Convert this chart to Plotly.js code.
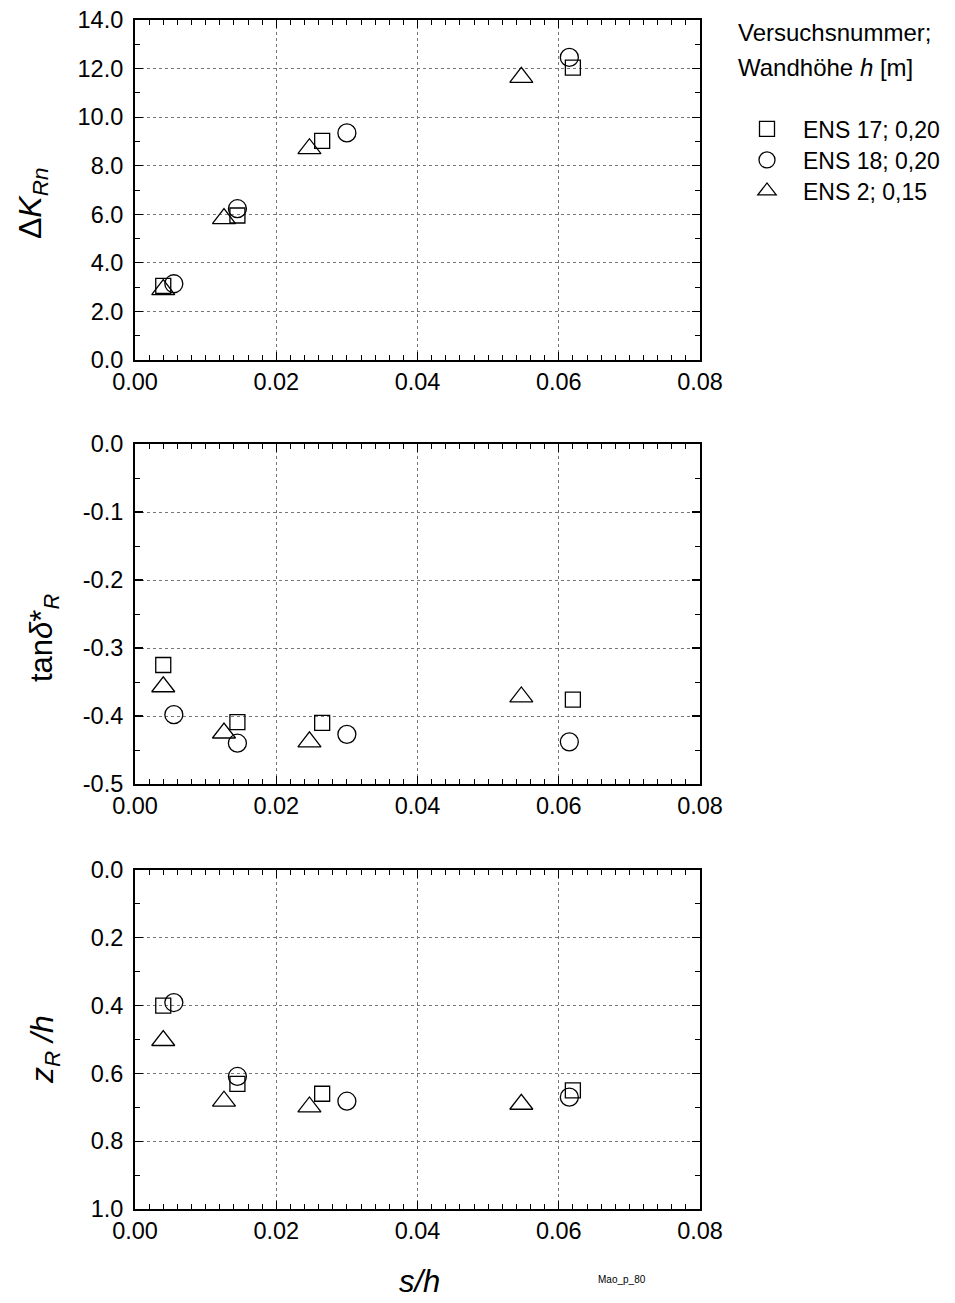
<!DOCTYPE html>
<html>
<head>
<meta charset="utf-8">
<script src="https://cdn.plot.ly/plotly-3.0.1.min.js"></script>
<style>html,body{margin:0;padding:0;background:#fff;}#chart{width:955px;height:1303px;}</style>
</head>
<body>
<div id="chart"></div>
<script>
// ---- data ----
const seriesNames = ["ENS 17; 0,20", "ENS 18; 0,20", "ENS 2; 0,15"];
const symbols = ["square-open", "circle-open", "triangle-up-open"];
const markerSizes = [15, 18, 20];

const x_ENS17 = [0.0040, 0.0145, 0.0265, 0.0620];
const x_ENS18 = [0.0055, 0.0145, 0.0300, 0.0615];
const x_ENS2  = [0.0040, 0.0126, 0.0247, 0.0547];

const dK_ENS17 = [3.05, 5.95, 9.02, 12.04];
const dK_ENS18 = [3.14, 6.23, 9.35, 12.46];
const dK_ENS2  = [2.90, 5.82, 8.70, 11.64];

const tan_ENS17 = [-0.325, -0.409, -0.410, -0.376];
const tan_ENS18 = [-0.398, -0.440, -0.427, -0.438];
const tan_ENS2  = [-0.357, -0.425, -0.438, -0.372];

const z_ENS17 = [0.400, 0.631, 0.660, 0.650];
const z_ENS18 = [0.391, 0.609, 0.682, 0.670];
const z_ENS2  = [0.503, 0.682, 0.699, 0.691];

const xTickVals = [0, 0.02, 0.04, 0.06, 0.08];
const xTickText = ["0.00", "0.02", "0.04", "0.06", "0.08"];
const dKTickVals = [0, 2, 4, 6, 8, 10, 12, 14];
const dKTickText = ["0.0", "2.0", "4.0", "6.0", "8.0", "10.0", "12.0", "14.0"];
const tanTickVals = [-0.5, -0.4, -0.3, -0.2, -0.1, 0];
const tanTickText = ["-0.5", "-0.4", "-0.3", "-0.2", "-0.1", "0.0"];
const zTickVals = [0, 0.2, 0.4, 0.6, 0.8, 1.0];
const zTickText = ["0.0", "0.2", "0.4", "0.6", "0.8", "1.0"];

// ---- build ----
const xs = [x_ENS17, x_ENS18, x_ENS2];
const legendIds = ["legend", "legend2", "legend3"];
const panels = [
  {ys: [dK_ENS17, dK_ENS18, dK_ENS2], xa: "x", ya: "y"},
  {ys: [tan_ENS17, tan_ENS18, tan_ENS2], xa: "x2", ya: "y2"},
  {ys: [z_ENS17, z_ENS18, z_ENS2], xa: "x3", ya: "y3"}
];
const traces = [];
panels.forEach((p, pi) => {
  for (let s = 0; s < 3; s++) {
    traces.push({
      type: "scatter", mode: "markers",
      x: xs[s], y: p.ys[s], xaxis: p.xa, yaxis: p.ya,
      name: seriesNames[s], showlegend: pi === 0, legend: legendIds[s],
      marker: {symbol: symbols[s], size: markerSizes[s], color: "#000", line: {color: "#000", width: 1.3}},
      cliponaxis: false
    });
  }
});

const W = 955, H = 1303;
const font = "Liberation Sans, Arial, sans-serif";
const tickFont = {family: font, size: 23.5, color: "#000"};
function xAxis(anchor) {
  return {
    domain: [135 / W, 700 / W], anchor: anchor, range: [0, 0.08],
    tickmode: "array", tickvals: xTickVals, ticktext: xTickText,
    ticks: "inside", ticklen: 8, tickwidth: 1.2, tickcolor: "#000",
    minor: {dtick: 0.002, tick0: 0, ticks: "inside", ticklen: 5, tickwidth: 1, tickcolor: "#000", showgrid: false},
    showline: true, linecolor: "#000", linewidth: 2, mirror: "allticks",
    showgrid: true, gridcolor: "#777", griddash: "dot", gridwidth: 1,
    zeroline: false, tickfont: tickFont
  };
}
function yAxis(anchor, top, bot, range, vals, text, minorDtick) {
  return {
    domain: [1 - bot / H, 1 - top / H], anchor: anchor, range: range,
    tickmode: "array", tickvals: vals, ticktext: text,
    ticks: "inside", ticklen: 8, tickwidth: 1.2, tickcolor: "#000",
    minor: {dtick: minorDtick, tick0: 0, ticks: "inside", ticklen: 5, tickwidth: 1, tickcolor: "#000", showgrid: false},
    showline: true, linecolor: "#000", linewidth: 2, mirror: "allticks",
    showgrid: true, gridcolor: "#777", griddash: "dot", gridwidth: 1,
    zeroline: false, tickfont: tickFont, ticklabelstandoff: 5
  };
}
function legendAt(yPx) {
  return {
    x: 731 / W, xanchor: "left", y: 1 - yPx / H, yanchor: "middle",
    font: {family: font, size: 23, color: "#000"},
    bgcolor: "rgba(0,0,0,0)", borderwidth: 0, itemwidth: 62
  };
}

const layout = {
  width: W, height: H,
  margin: {l: 0, r: 0, t: 0, b: 0},
  paper_bgcolor: "#fff", plot_bgcolor: "#fff",
  font: {family: font, color: "#000"},
  xaxis: xAxis("y"),
  yaxis: yAxis("x", 20, 360, [0, 14], dKTickVals, dKTickText, 1),
  xaxis2: xAxis("y2"),
  yaxis2: yAxis("x2", 444, 784, [-0.5, 0], tanTickVals, tanTickText, 0.05),
  xaxis3: xAxis("y3"),
  yaxis3: yAxis("x3", 870, 1209, [1, 0], zTickVals, zTickText, 0.1),
  showlegend: true,
  legend: legendAt(129),
  legend2: legendAt(160),
  legend3: legendAt(191),
  annotations: [
    {xref: "paper", yref: "paper", x: 736 / W, y: 1 - 33 / H, xanchor: "left", yanchor: "middle",
     showarrow: false, text: "Versuchsnummer;", font: {family: font, size: 24, color: "#000"}},
    {xref: "paper", yref: "paper", x: 736 / W, y: 1 - 68 / H, xanchor: "left", yanchor: "middle",
     showarrow: false, text: "Wandhöhe <i>h</i> [m]", font: {family: font, size: 24, color: "#000"}},
    {xref: "paper", yref: "paper", x: 33 / W, y: 1 - 204 / H, xanchor: "center", yanchor: "middle", textangle: -90,
     showarrow: false, text: "Δ<i>K</i><sub><i>Rn</i></sub>", font: {family: font, size: 32, color: "#000"}},
    {xref: "paper", yref: "paper", x: 44 / W, y: 1 - 638 / H, xanchor: "center", yanchor: "middle", textangle: -90,
     showarrow: false, text: "tan<i>δ</i>*<sub><i>R</i></sub>", font: {family: font, size: 31, color: "#000"}},
    {xref: "paper", yref: "paper", x: 44 / W, y: 1 - 1050 / H, xanchor: "center", yanchor: "middle", textangle: -90,
     showarrow: false, text: "<i>z<sub>R</sub> /h</i>", font: {family: font, size: 32, color: "#000"}},
    {xref: "paper", yref: "paper", x: 419 / W, y: 1 - 1281 / H, xanchor: "center", yanchor: "middle",
     showarrow: false, text: "<i>s/h</i>", font: {family: font, size: 31, color: "#000"}},
    {xref: "paper", yref: "paper", x: 622 / W, y: 1 - 1279 / H, xanchor: "center", yanchor: "middle",
     showarrow: false, text: "Mao_p_80", font: {family: font, size: 10, color: "#000"}}
  ]
};

Plotly.newPlot("chart", traces, layout, {staticPlot: true, displayModeBar: false});
</script>
</body>
</html>
